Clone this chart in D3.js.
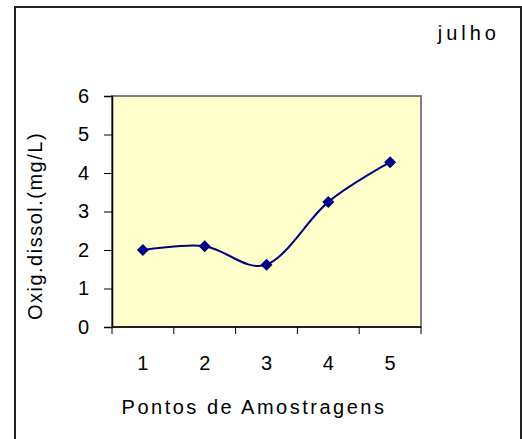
<!DOCTYPE html>
<html>
<head>
<meta charset="utf-8">
<script src="https://cdn.jsdelivr.net/npm/d3@7"></script>
<style>
  body { margin: 0; background: #fff; }
  text { font-family: "Liberation Sans", Arial, sans-serif; fill: #000; }
</style>
</head>
<body>
<div id="chart"></div>
<script>
// sampling points and dissolved oxygen values (july)
var pontos = ["1", "2", "3", "4", "5"];
var oxigenio = [2.0, 2.1, 1.62, 3.25, 4.28];
var yTicks = [0, 1, 2, 3, 4, 5, 6];

var svgWidth = 522;
var svgHeight = 439;

var margin = { top: 96, right: 101, bottom: 112, left: 112 };
var width = svgWidth - margin.left - margin.right;
var height = svgHeight - margin.top - margin.bottom;

var svg = d3.select("#chart")
  .append("svg")
  .attr("width", svgWidth)
  .attr("height", svgHeight);

// outer frame, bottom runs off the picture
svg.append("rect")
  .attr("x", 15)
  .attr("y", 7)
  .attr("width", 506)
  .attr("height", 450)
  .attr("fill", "none")
  .attr("stroke", "#222")
  .attr("stroke-width", 2);

svg.append("text")
  .attr("x", 500)
  .attr("y", 40)
  .attr("text-anchor", "end")
  .style("font-size", "20px")
  .style("letter-spacing", "4px")
  .text("julho");

var g = svg.append("g")
  .attr("transform", "translate(" + margin.left + "," + margin.top + ")");

var x = d3.scaleBand().domain(pontos).range([0, width]);
var y = d3.scaleLinear().domain([0, 6]).range([height, 0]);

// plot area
g.append("rect")
  .attr("width", width)
  .attr("height", height)
  .attr("fill", "#FFFFCC")
  .attr("stroke", "#808080")
  .attr("stroke-width", 2);

// y axis
var yAxis = g.append("g")
  .call(d3.axisLeft(y).tickValues(yTicks).tickSize(8).tickPadding(15).tickFormat(d3.format("d")));
yAxis.select(".domain").attr("stroke", "#000").attr("stroke-width", 1.5);
yAxis.selectAll(".tick line").attr("stroke", "#000");
yAxis.selectAll("text").style("font-size", "20px").attr("dy", "0.3em");

// x axis: ticks on band edges, labels at centers
var xAxis = g.append("g").attr("transform", "translate(0," + height + ")");
xAxis.append("line")
  .attr("x1", 0).attr("x2", width)
  .attr("stroke", "#000").attr("stroke-width", 1.5);
var edges = pontos.map(function(p) { return x(p); }).concat([width]);
xAxis.selectAll(".edge")
  .data(edges)
  .enter()
  .append("line")
  .attr("x1", d => d).attr("x2", d => d)
  .attr("y1", 0).attr("y2", 7)
  .attr("stroke", "#000");
xAxis.selectAll(".lbl")
  .data(pontos)
  .enter()
  .append("text")
  .attr("x", d => x(d) + x.bandwidth() / 2)
  .attr("y", 43)
  .attr("text-anchor", "middle")
  .style("font-size", "20px")
  .text(d => d);

// axis titles
svg.append("text")
  .attr("x", 254)
  .attr("y", 414)
  .attr("text-anchor", "middle")
  .style("font-size", "20px")
  .style("letter-spacing", "2.5px")
  .text("Pontos de Amostragens");

svg.append("text")
  .attr("transform", "translate(42,226) rotate(-90)")
  .attr("text-anchor", "middle")
  .style("font-size", "20px")
  .style("letter-spacing", "1.5px")
  .text("Oxig.dissol.(mg/L)");

// smoothed line
var line = d3.line()
  .x((d, i) => x(pontos[i]) + x.bandwidth() / 2)
  .y(d => y(d))
  .curve(d3.curveCatmullRom.alpha(0));

g.append("path")
  .datum(oxigenio)
  .attr("d", line)
  .attr("fill", "none")
  .attr("stroke", "#000080")
  .attr("stroke-width", 2);

g.selectAll(".marker")
  .data(oxigenio)
  .enter()
  .append("path")
  .attr("d", "M0,-6L6,0L0,6L-6,0Z")
  .attr("transform", (d, i) => "translate(" + (x(pontos[i]) + x.bandwidth() / 2) + "," + y(d) + ")")
  .attr("fill", "#000080");
</script>
</body>
</html>
